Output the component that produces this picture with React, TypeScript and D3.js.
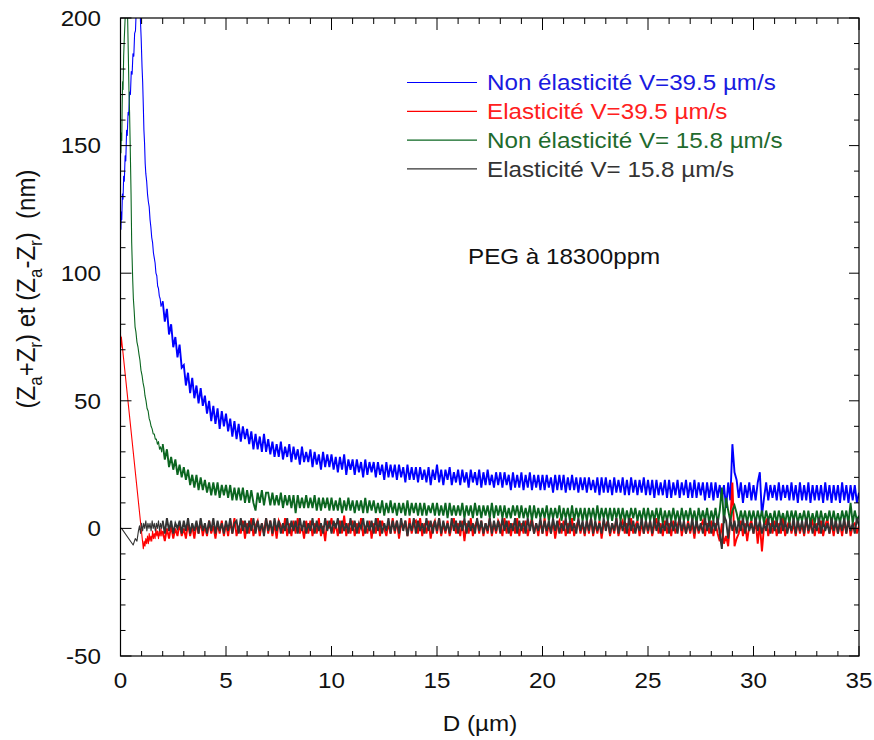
import React from 'react';
import * as d3 from 'd3';

const W = 874;
const H = 740;
const PLOT = { left: 120.5, right: 859, top: 18, bottom: 656 };
const SX = 1.1;
const FONT = 'Liberation Sans, Arial, Helvetica, sans-serif';

const X_DOMAIN = [0, 35];
const Y_DOMAIN = [-50, 200];
const X_TICKS = [0, 5, 10, 15, 20, 25, 30, 35];
const Y_TICKS = [-50, 0, 50, 100, 150, 200];
const X_MINOR_STEP = 1;
const Y_MINOR_STEP = 10;

const SERIES_NAMES = [
  'Non élasticité V=39.5 µm/s',
  'Elasticité V=39.5 µm/s',
  'Non élasticité V= 15.8 µm/s',
  'Elasticité V= 15.8 µm/s',
];
const SERIES_COLORS = ['#0000ff', '#ff0000', '#0b6620', '#333333'];
const LEGEND_TEXT_COLORS = ['#1a1ae0', '#ff2020', '#1f6b2e', '#333333'];

// regularly sampled tail: D = TAIL_START + i * TAIL_STEP
const TAIL_START = 2.0;
const TAIL_STEP = 0.1;

// Non élasticité V=39.5
const blueHead: [number, number][] = [
  [0.02, 117], [0.04, 124], [0.06, 121], [0.09, 131], [0.12, 129], [0.15, 138], [0.18, 136],
  [0.22, 146], [0.25, 144], [0.29, 156], [0.32, 154], [0.36, 163], [0.39, 162], [0.43, 171],
  [0.47, 170], [0.51, 179], [0.55, 178], [0.59, 186], [0.63, 185], [0.67, 194], [0.71, 195],
  [0.75, 204], [0.8, 214], [0.86, 216], [0.92, 206], [0.95, 198], [0.98, 192], [1.02, 181],
  [1.05, 175], [1.08, 166], [1.11, 156], [1.14, 151], [1.17, 143], [1.2, 139], [1.24, 136],
  [1.28, 131], [1.32, 128], [1.36, 126], [1.4, 121], [1.44, 118], [1.48, 114], [1.52, 112],
  [1.56, 108], [1.6, 106], [1.64, 104], [1.68, 100], [1.72, 99], [1.76, 95], [1.8, 94],
  [1.84, 91], [1.88, 90], [1.92, 87], [1.96, 88],
];
const blueTail = [
  89, 81, 86, 76, 80, 71, 75, 67, 72, 63,
  64, 56, 61, 53, 59, 51, 56, 49, 55, 48,
  52, 45, 50, 42, 48, 41, 47, 39, 46, 40,
  45, 38, 43, 36, 42, 35, 41, 34, 40, 35,
  39, 33, 38, 31, 37, 31, 36, 30, 37, 30,
  35, 29, 34, 28, 33, 28, 34, 27, 32, 28,
  33, 26, 32, 27, 31, 25, 32, 26, 30, 26,
  31, 24, 30, 25, 29, 23, 30, 24, 29, 24,
  29, 23, 28, 22, 28, 23, 29, 21, 27, 23,
  27, 21, 27, 22, 26, 20, 27, 21, 26, 22,
  26, 20, 26, 21, 25, 19, 26, 20, 25, 20,
  25, 19, 25, 20, 24, 18, 25, 19, 24, 19,
  24, 18, 24, 19, 23, 18, 24, 17, 23, 19,
  25, 18, 23, 17, 23, 19, 24, 17, 22, 18,
  23, 17, 23, 18, 22, 16, 23, 18, 22, 17,
  23, 16, 22, 17, 23, 17, 21, 16, 22, 17,
  22, 16, 22, 17, 21, 15, 22, 16, 21, 16,
  22, 15, 21, 16, 22, 15, 21, 16, 21, 15,
  21, 15, 21, 16, 20, 14, 21, 15, 21, 15,
  21, 14, 20, 15, 21, 15, 20, 14, 20, 15,
  20, 14, 20, 15, 19, 14, 20, 13, 20, 14,
  20, 14, 19, 13, 20, 14, 19, 14, 20, 13,
  19, 13, 20, 14, 19, 13, 19, 14, 20, 13,
  19, 13, 19, 12, 19, 13, 18, 13, 19, 12,
  19, 12, 18, 13, 19, 12, 18, 13, 19, 12,
  18, 12, 19, 12, 18, 13, 18, 11, 18, 12,
  18, 11, 18, 12, 17, 11, 17, 8, 18, 11,
  33, 22, 19, 12, 18, 10, 17, 12, 18, 11,
  17, 11, 18, 22, 5, 12, 18, 11, 17, 12,
  17, 11, 18, 11, 17, 12, 17, 11, 18, 11,
  17, 10, 18, 11, 17, 11, 18, 10, 17, 11,
  17, 11, 17, 10, 18, 11, 17, 10, 17, 11,
  17, 10, 18, 11, 17, 10, 17, 11, 17, 10,
  14,
];

// Elasticité V=39.5
const redHead: [number, number][] = [
  [0.0, 76], [0.02, 71], [0.04, 75], [1.08, -8], [1.12, -5], [1.16, -7], [1.2, -4],
  [1.24, -6], [1.28, -3], [1.32, -6], [1.36, -2], [1.4, -5], [1.44, -3], [1.48, -5],
  [1.52, -1], [1.56, -4], [1.6, -2], [1.64, -4], [1.68, 0], [1.72, -3], [1.76, -1],
  [1.8, -4], [1.84, -1], [1.88, -3], [1.92, 0], [1.96, -3],
];
const redTail = [
  -1, -5, 0, -4, 1, -4, 0, -3, 2, -3,
  0, -4, 2, -3, 1, -4, 2, -2, 3, -3,
  1, -3, 3, -2, 1, -4, 2, -2, 3, -3,
  2, -3, 3, -2, 4, -3, 1, -2, 3, -4,
  2, -2, 4, -3, 1, 3, -3, 2, -2, 4,
  -2, 3, -3, 2, -4, 3, 1, -2, 4, -3,
  2, -3, 3, -2, 4, -2, 1, -4, 3, -2,
  3, -3, 2, -2, 4, -3, 1, -5, 3, 0,
  4, -2, 2, -3, 3, -2, 5, -3, 2, -2,
  3, -3, 2, -2, 4, -3, 1, -2, 3, -4,
  2, -2, 4, -3, 3, 0, -3, 2, -2, 4,
  -2, 3, -4, 2, 0, 3, -3, 4, -2, 2,
  3, -2, 4, -3, 2, -2, 3, -4, 1, 3,
  -2, 4, -3, 2, -2, 3, -3, 1, 4, -2,
  2, -3, 3, -5, 2, -2, 4, -3, 1, 3,
  -2, 3, -3, 2, -2, 4, -3, 2, -2, 3,
  1, -3, 4, -2, 3, -3, 2, -2, 4, -3,
  2, -2, 3, -3, 1, 4, -2, 2, -3, 3,
  -2, 4, -3, 2, -2, 3, -4, 1, 3, -2,
  3, -3, 2, -2, 4, -3, 1, 3, -2, 2,
  -3, 3, -2, 4, -3, 2, -2, 3, -4, 2,
  1, 3, -3, 2, -2, 4, -3, 1, 3, -2,
  2, -3, 4, -2, 1, 3, -3, 2, -2, 3,
  -2, 3, -3, 1, 4, -2, 2, -3, 3, -2,
  2, -3, 3, -2, 1, 4, -3, 2, -2, 3,
  -2, 2, -4, 3, -2, 1, 3, -3, 2, -2,
  3, -3, 2, -2, -5, 2, -6, -3, -7, 3,
  18, -7, -4, -2, 3, -3, 2, -5, 1, 3,
  -2, 3, -6, 2, -9, 1, 3, -3, 2, -2,
  3, -3, 2, -2, 4, -3, 1, 3, -2, 2,
  -3, 3, -2, 2, -3, 4, -2, 1, 3, -3,
  2, -2, 3, -3, 1, 4, -2, 2, -3, 3,
  -2, 2, -3, 3, -2, 4, -3, 1, 2, -2,
  1,
];

// Non élasticité V=15.8
const greenHead: [number, number][] = [
  [0.02, 147], [0.04, 155], [0.06, 152], [0.08, 166], [0.1, 175], [0.12, 172], [0.15, 185],
  [0.18, 192], [0.22, 200], [0.27, 212], [0.31, 210], [0.34, 199], [0.37, 186], [0.4, 172],
  [0.43, 163], [0.46, 150], [0.5, 131], [0.53, 112], [0.55, 106], [0.58, 97], [0.61, 90],
  [0.65, 85], [0.69, 79], [0.73, 77], [0.78, 73], [0.83, 71], [0.88, 68], [0.92, 66],
  [0.97, 62], [1.02, 60], [1.07, 57], [1.12, 55], [1.16, 52], [1.21, 50], [1.26, 47],
  [1.31, 46], [1.36, 43], [1.4, 42], [1.45, 40], [1.5, 39], [1.55, 37], [1.6, 37],
  [1.65, 35], [1.7, 35], [1.75, 33], [1.8, 34], [1.85, 31], [1.9, 32], [1.95, 30],
];
const greenTail = [
  33, 27, 31, 24, 28, 23, 27, 21, 25, 20,
  24, 19, 23, 17, 21, 16, 21, 15, 20, 15,
  19, 14, 18, 13, 18, 13, 18, 12, 17, 13,
  17, 12, 17, 11, 16, 11, 16, 11, 16, 10,
  15, 10, 15, 10, 7, 14, 10, 15, 9, 14,
  14, 9, 14, 9, 13, 9, 14, 8, 13, 9,
  13, 8, 13, 6, 13, 8, 12, 8, 13, 8,
  12, 8, 13, 7, 12, 7, 12, 8, 12, 7,
  12, 7, 11, 7, 12, 6, 11, 7, 12, 7,
  11, 6, 11, 7, 11, 6, 12, 6, 11, 7,
  11, 6, 10, 6, 11, 5, 10, 6, 11, 6,
  10, 5, 10, 6, 10, 5, 11, 5, 10, 6,
  10, 5, 10, 5, 10, 5, 9, 6, 10, 5,
  10, 5, 9, 5, 10, 4, 10, 5, 9, 5,
  9, 5, 10, 4, 9, 5, 9, 4, 10, 5,
  9, 4, 9, 5, 9, 4, 10, 4, 9, 5,
  9, 4, 9, 4, 8, 4, 9, 5, 9, 4,
  9, 4, 8, 4, 9, 3, 9, 4, 8, 4,
  8, 4, 9, 3, 8, 4, 8, 4, 9, 3,
  8, 4, 8, 3, 9, 3, 8, 4, 8, 3,
  8, 3, 8, 4, 8, 3, 9, 3, 8, 4,
  8, 3, 8, 3, 8, 4, 8, 3, 8, 3,
  7, 3, 8, 4, 8, 3, 7, 3, 8, 3,
  8, 3, 7, 3, 8, 3, 8, 2, 7, 3,
  7, 3, 8, 3, 7, 2, 8, 3, 7, 3,
  8, 3, 7, 2, 8, 3, 7, 3, 8, 2,
  7, 3, 8, 2, 7, 16, 2, 12, 7, 3,
  7, 9, 6, 2, 7, 3, 7, 2, 7, 3,
  7, 2, 7, 3, 7, 2, 7, 3, 6, 2,
  7, 2, 7, 3, 6, 2, 7, 2, 7, 3,
  7, 2, 6, 3, 7, 2, 7, 2, 6, 2,
  7, 2, 7, 2, 6, 3, 7, 2, 7, 2,
  6, 2, 7, 3, 7, 2, 10, 2, 7, 3,
  5,
];

// Elasticité V=15.8
const blackHead: [number, number][] = [
  [0.0, 0], [0.05, 0], [0.6, -6.5], [0.7, -4], [0.78, -5], [0.85, -1], [0.9, 1], [0.95, -2],
  [1.0, 2], [1.05, -1], [1.1, 2], [1.15, 0], [1.2, 3], [1.25, -1], [1.3, 2], [1.35, 0],
  [1.4, 2], [1.45, -1], [1.5, 3], [1.55, 0], [1.6, 2], [1.65, -1], [1.7, 2], [1.75, 0],
  [1.8, 3], [1.85, -1], [1.9, 2], [1.95, 0],
];
const blackTail = [
  3, -2, 4, -1, 3, -2, 2, 0, 3, -2,
  3, -1, 4, -2, 2, -1, 3, -2, 4, -1,
  2, -2, 3, -1, 4, -2, 3, -1, 2, -2,
  3, -1, 4, -2, 2, 3, -2, 4, -1, 3,
  -2, 3, -1, 4, -2, 3, -1, 2, -3, 4,
  -1, 3, -2, 4, -1, 3, -2, 2, -1, 4,
  -2, 3, -1, 3, -2, 4, -1, 3, -2, 2,
  -1, 4, -2, 3, -1, 2, -2, 4, -1, 3,
  -2, 3, 0, 4, -2, 3, -1, 2, -2, 4,
  -1, 3, -2, 2, 0, 4, -2, 3, -1, 3,
  -2, 4, -1, 3, -2, 2, -1, 4, -2, 3,
  -1, 3, -2, 4, -1, 3, -3, 2, -1, 4,
  -2, 3, -1, 2, -2, 4, -1, 3, -2, 3,
  -1, 4, -2, 3, -1, 2, -2, 4, -1, 3,
  -2, 3, -1, 4, -2, 3, -1, 2, -2, 4,
  -1, 3, -2, 2, -1, 4, -2, 3, -1, 3,
  -2, 4, -1, 3, -2, 2, -1, 4, -2, 3,
  -1, 3, -2, 4, -1, 3, -2, 2, -1, 4,
  -2, 3, -1, 3, -2, 4, -1, 3, -2, 2,
  -1, 4, -2, 3, -1, 2, -2, 4, -1, 3,
  -2, 3, -1, 4, -2, 3, -1, 2, -2, 4,
  -1, 3, -2, 2, -1, 4, -2, 3, -1, 3,
  -2, 4, -1, 3, -2, 2, -1, 4, -2, 3,
  -1, 3, -2, 4, -1, 3, -2, 2, -1, 4,
  -2, 3, -1, 3, -2, 4, -1, 3, -2, 2,
  -1, 4, -2, 3, -1, 2, -2, 4, -1, 3,
  -2, 3, -1, 4, -2, -8, 5, 3, -4, 4,
  -1, 3, -2, 3, -1, 4, -2, 3, -1, 2,
  -2, 4, -1, 3, -2, 2, -1, 4, -2, 3,
  -1, 3, -2, 4, -1, 3, -2, 2, -1, 4,
  -2, 3, -1, 3, -2, 4, -1, 3, -2, 2,
  -1, 4, -2, 3, -1, 2, -2, 4, -1, 3,
  -2, 3, -1, 4, -2, 3, -1, 2, -2, 4,
  1,
];

const HEADS = [blueHead, redHead, greenHead, blackHead];
const TAILS = [blueTail, redTail, greenTail, blackTail];

function tailPoints(tail: number[]): [number, number][] {
  return tail.map((v, i) => [TAIL_START + i * TAIL_STEP, v] as [number, number]);
}

export default function App() {
  const x = d3.scaleLinear().domain(X_DOMAIN).range([PLOT.left, PLOT.right]);
  const y = d3.scaleLinear().domain(Y_DOMAIN).range([PLOT.bottom, PLOT.top]);
  const line = d3.line<[number, number]>().x((d) => x(d[0])).y((d) => y(d[1]));

  const xMinor = d3.range(X_DOMAIN[0], X_DOMAIN[1] + 0.001, X_MINOR_STEP).filter((v) => !X_TICKS.includes(v));
  const yMinor = d3.range(Y_DOMAIN[0], Y_DOMAIN[1] + 0.001, Y_MINOR_STEP).filter((v) => !Y_TICKS.includes(v));

  const MAJ = 10;
  const MIN = 5;
  const legendY0 = 82.5;
  const legendDy = 28.8;

  return (
    <svg width={W} height={H} style={{ position: 'absolute', left: 0, top: 0, background: '#fff' }} fontFamily={FONT}>
      <rect x={0} y={0} width={W} height={H} fill="#fff" />
      <defs>
        <clipPath id="plotclip">
          <rect x={PLOT.left} y={PLOT.top} width={PLOT.right - PLOT.left} height={PLOT.bottom - PLOT.top} />
        </clipPath>
      </defs>

      <g clipPath="url(#plotclip)">
        {HEADS.map((h, i) => {
          const tail = tailPoints(TAILS[i]);
          const joined = h.concat([tail[0]]);
          return (
            <g key={i}>
              <path d={line(joined) || ''} fill="none" stroke={SERIES_COLORS[i]} strokeWidth={1.1} strokeLinejoin="round" />
              <path d={line(tail) || ''} fill="none" stroke={SERIES_COLORS[i]} strokeWidth={1.9} strokeLinejoin="miter" />
            </g>
          );
        })}
      </g>

      {/* frame */}
      <rect x={PLOT.left} y={PLOT.top} width={PLOT.right - PLOT.left} height={PLOT.bottom - PLOT.top} fill="none" stroke="#000" strokeWidth={1.2} />

      {/* x ticks */}
      {X_TICKS.map((t) => (
        <g key={'xt' + t}>
          <line x1={x(t)} x2={x(t)} y1={PLOT.bottom} y2={PLOT.bottom - MAJ} stroke="#000" />
          <line x1={x(t)} x2={x(t)} y1={PLOT.top} y2={PLOT.top + MAJ + 2} stroke="#000" />
        </g>
      ))}
      {xMinor.map((t) => (
        <g key={'xm' + t}>
          <line x1={x(t)} x2={x(t)} y1={PLOT.bottom} y2={PLOT.bottom - MIN} stroke="#000" />
          <line x1={x(t)} x2={x(t)} y1={PLOT.top} y2={PLOT.top + MIN + 1} stroke="#000" />
        </g>
      ))}
      {/* y ticks */}
      {Y_TICKS.map((t) => (
        <g key={'yt' + t}>
          <line x1={PLOT.left} x2={PLOT.left + MAJ + 1} y1={y(t)} y2={y(t)} stroke="#000" />
          <line x1={PLOT.right} x2={PLOT.right - MAJ} y1={y(t)} y2={y(t)} stroke="#000" />
        </g>
      ))}
      {yMinor.map((t) => (
        <g key={'ym' + t}>
          <line x1={PLOT.left} x2={PLOT.left + MIN} y1={y(t)} y2={y(t)} stroke="#000" />
          <line x1={PLOT.right} x2={PLOT.right - MIN} y1={y(t)} y2={y(t)} stroke="#000" />
        </g>
      ))}

      {/* tick labels */}
      {X_TICKS.map((t) => (
        <g key={'xl' + t} transform={`translate(${x(t)},688) scale(${SX},1)`}>
          <text textAnchor="middle" fontSize={22} fill="#111">{t}</text>
        </g>
      ))}
      {Y_TICKS.map((t) => (
        <g key={'yl' + t} transform={`translate(101,${y(t) + 7.8}) scale(${SX},1)`}>
          <text textAnchor="end" fontSize={22} fill="#111">{t}</text>
        </g>
      ))}

      {/* axis titles */}
      <g transform={`translate(480,731) scale(${SX},1)`}>
        <text textAnchor="middle" fontSize={22} fill="#111">D (µm)</text>
      </g>
      <g transform={`translate(35,289) scale(${SX},1) rotate(-90)`}>
        <text textAnchor="middle" fontSize={24} fill="#111">
          (Z<tspan fontSize={17} dy={6}>a</tspan>
          <tspan dy={-6}>+Z</tspan>
          <tspan fontSize={17} dy={6}>r</tspan>
          <tspan dy={-6}>) et (Z</tspan>
          <tspan fontSize={17} dy={6}>a</tspan>
          <tspan dy={-6}>-Z</tspan>
          <tspan fontSize={17} dy={6}>r</tspan>
          <tspan dy={-6}>){'\u00A0\u00A0'}(nm)</tspan>
        </text>
      </g>

      {/* legend */}
      {SERIES_NAMES.map((name, i) => {
        const ly = legendY0 + i * legendDy;
        return (
          <g key={'lg' + i}>
            <line x1={407} x2={477} y1={ly} y2={ly} stroke={SERIES_COLORS[i]} strokeWidth={1.2} />
            <g transform={`translate(487,${ly + 7.9}) scale(${SX},1)`}>
              <text fontSize={22} fill={LEGEND_TEXT_COLORS[i]}>{name}</text>
            </g>
          </g>
        );
      })}

      <g transform={`translate(468,264) scale(${SX},1)`}>
        <text fontSize={22} fill="#111">PEG à 18300ppm</text>
      </g>
    </svg>
  );
}
